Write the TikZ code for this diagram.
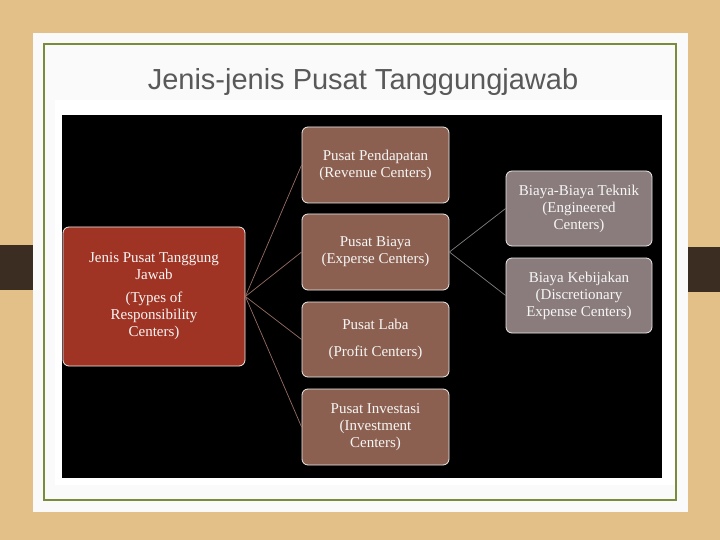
\documentclass[tikz,border=0pt]{standalone}
\usepackage{fontspec}
\setmainfont{Liberation Serif}
\newfontfamily\titlefont{Liberation Sans}
\definecolor{wood}{RGB}{226,192,135}
\definecolor{tabc}{RGB}{60,45,35}
\definecolor{greenb}{RGB}{120,140,60}
\definecolor{rootc}{RGB}{160,52,36}
\definecolor{midc}{RGB}{140,96,80}
\definecolor{leafc}{RGB}{138,124,124}
\definecolor{linec}{RGB}{150,110,100}
\begin{document}
\begin{tikzpicture}[x=1pt,y=-1pt,
  box/.style={draw=white!85!gray,line width=0.8pt,rounded corners=6pt,text=white!93!gray,align=center,font=\fontsize{15}{17}\selectfont,inner sep=0pt},
  conn/.style={draw=linec,line width=0.7pt}]
\useasboundingbox (0,0) rectangle (720,540);
\fill[wood] (0,0) rectangle (720,540);
\fill[tabc] (0,245) rectangle (52,290);
\fill[tabc] (672,247) rectangle (720,292);
\fill[white!96!gray] (33,33) rectangle (688,512);
\draw[greenb,line width=1.5pt] (44,44) rectangle (676,500);
\fill[white] (55,100) rectangle (675,485);
\node[font=\titlefont\fontsize{29}{32}\selectfont,text=black!65] (title) at (363,82) {Jenis-jenis Pusat Tanggungjawab};
\fill[black] (62,115) rectangle (662,478);
\node[box,fill=rootc,minimum width=182pt,minimum height=139pt] (root) at (154,296.5) {Jenis Pusat Tanggung\\Jawab\\[6pt](Types of\\Responsibility\\Centers)};
\node[box,fill=midc,minimum width=147pt,minimum height=76pt] (pend) at (375.5,165) {Pusat Pendapatan\\(Revenue Centers)};
\node[box,fill=midc,minimum width=147pt,minimum height=76pt] (biaya) at (375.5,252) {Pusat Biaya\\(Experse Centers)};
\node[box,fill=midc,minimum width=147pt,minimum height=75pt] (laba) at (375.5,339.5) {Pusat Laba\\[10pt](Profit Centers)};
\node[box,fill=midc,minimum width=147pt,minimum height=76pt] (inv) at (375.5,427) {Pusat Investasi\\(Investment\\Centers)};
\node[box,fill=leafc,minimum width=146pt,minimum height=75pt] (tek) at (579,208.5) {Biaya-Biaya Teknik\\(Engineered\\Centers)};
\node[box,fill=leafc,minimum width=146pt,minimum height=75pt] (keb) at (579,295.5) {Biaya Kebijakan\\(Discretionary\\Expense Centers)};
\foreach \n in {pend,biaya,laba,inv} \draw[conn] (root.east) -- (\n.west);
\foreach \n in {tek,keb} \draw[conn,draw=gray] (biaya.east) -- (\n.west);
\end{tikzpicture}
\end{document}
